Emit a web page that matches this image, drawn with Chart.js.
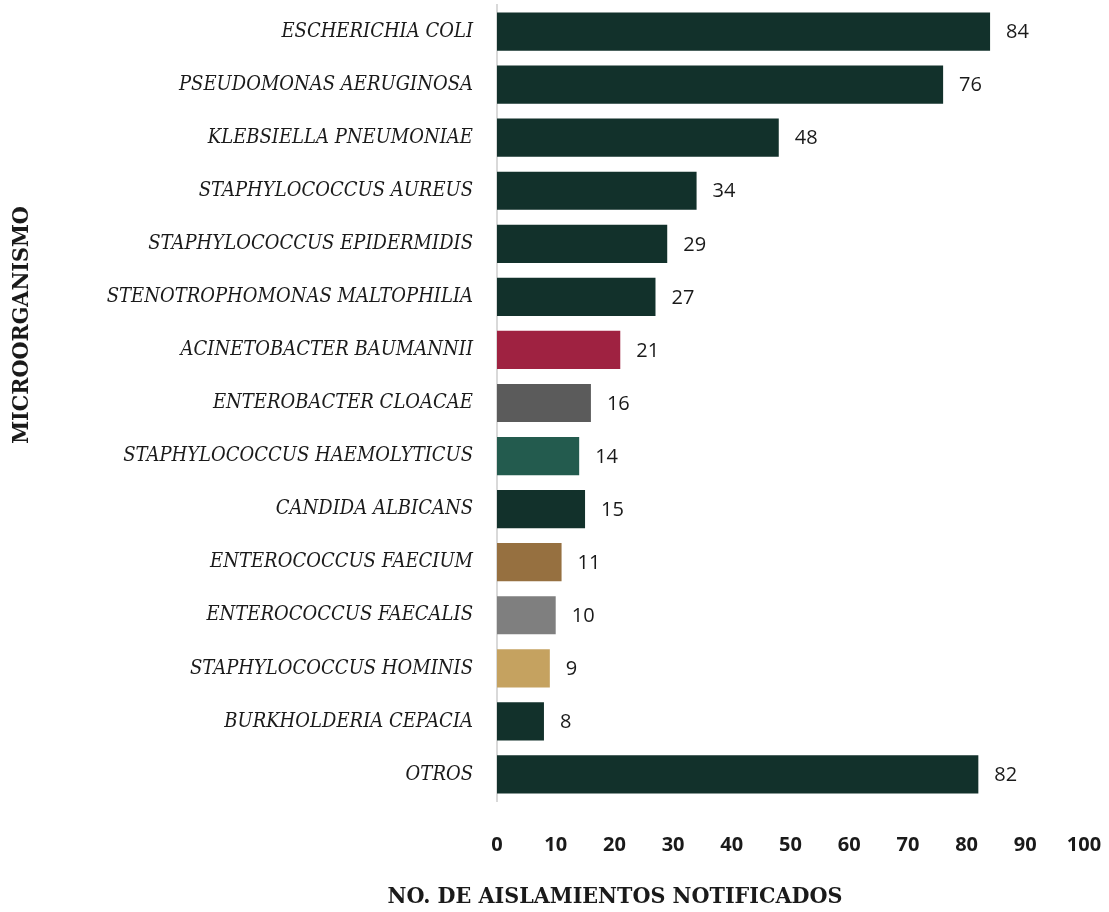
<!DOCTYPE html>
<html>
<head>
<meta charset="utf-8">
<script src="https://cdn.jsdelivr.net/npm/chart.js@4.4.1/dist/chart.umd.min.js"></script>
<style>
  html, body { margin: 0; padding: 0; background: #fff; }
  #wrap { width: 1109px; height: 912px; position: relative; }
</style>
</head>
<body>
<div id="wrap"><canvas id="chart"></canvas></div>
<script>
// Data
const organisms = [
  'ESCHERICHIA COLI', 'PSEUDOMONAS AERUGINOSA', 'KLEBSIELLA PNEUMONIAE',
  'STAPHYLOCOCCUS AUREUS', 'STAPHYLOCOCCUS EPIDERMIDIS', 'STENOTROPHOMONAS MALTOPHILIA',
  'ACINETOBACTER BAUMANNII', 'ENTEROBACTER CLOACAE', 'STAPHYLOCOCCUS HAEMOLYTICUS',
  'CANDIDA ALBICANS', 'ENTEROCOCCUS FAECIUM', 'ENTEROCOCCUS FAECALIS',
  'STAPHYLOCOCCUS HOMINIS', 'BURKHOLDERIA CEPACIA', 'OTROS'
];
const isolates = [84, 76, 48, 34, 29, 27, 21, 16, 14, 15, 11, 10, 9, 8, 82];
const barColors = [
  '#12312B', '#12312B', '#12312B', '#12312B', '#12312B', '#12312B',
  '#9F2241', '#5B5B5B', '#235B4E', '#12312B', '#967040', '#7F7F7F',
  '#C5A260', '#12312B', '#12312B'
];
const xTitle = 'NO. DE AISLAMIENTOS NOTIFICADOS';
const yTitle = 'MICROORGANISMO';

// Value labels to the right of every bar
const valueLabels = {
  id: 'valueLabels',
  afterDatasetsDraw(chart) {
    const ctx = chart.ctx;
    const meta = chart.getDatasetMeta(0);
    ctx.save();
    ctx.font = '20px "Open Sans"';
    ctx.fillStyle = '#1a1a1a';
    ctx.textAlign = 'left';
    ctx.textBaseline = 'middle';
    meta.data.forEach((bar, i) => {
      ctx.fillText(String(isolates[i]), bar.x + 16, bar.y + 1);
    });
    ctx.restore();
  }
};

// Axis titles sit off-centre in the original, so draw them by hand
const axisTitles = {
  id: 'axisTitles',
  afterDraw(chart) {
    const ctx = chart.ctx;
    ctx.save();
    ctx.fillStyle = '#1a1a1a';
    ctx.font = 'bold 23px "DejaVu Serif Condensed", "DejaVu Serif", serif';
    ctx.textAlign = 'center';
    ctx.textBaseline = 'middle';
    ctx.fillText(xTitle, 615, 897);
    ctx.translate(22, 325);
    ctx.rotate(-Math.PI / 2);
    ctx.fillText(yTitle, 0, 0);
    ctx.restore();
  }
};

new Chart(document.getElementById('chart'), {
  type: 'bar',
  data: {
    labels: organisms,
    datasets: [{
      data: isolates,
      backgroundColor: barColors,
      barPercentage: 0.72,
      categoryPercentage: 1.0
    }]
  },
  options: {
    indexAxis: 'y',
    responsive: true,
    maintainAspectRatio: false,
    animation: false,
    layout: { padding: { top: 5, right: 25, left: 0, bottom: 0 } },
    plugins: {
      legend: { display: false },
      tooltip: { enabled: false }
    },
    scales: {
      x: {
        min: 0,
        max: 100,
        grid: { display: false, drawTicks: false },
        border: { display: false },
        ticks: {
          stepSize: 10,
          padding: 32,
          color: '#1a1a1a',
          font: { family: '"Open Sans"', weight: 'bold', size: 20 }
        },
        afterFit(scale) {
          scale.height = 111;
          scale.paddingLeft = 0;
          scale.paddingRight = 0;
        }
      },
      y: {
        grid: { display: false, drawTicks: false },
        border: { display: true, color: '#d9d9d9', width: 2 },
        ticks: {
          padding: 24,
          color: '#1a1a1a',
          font: { family: '"DejaVu Serif Condensed", "DejaVu Serif", serif', style: 'italic', size: 20 }
        },
        afterFit(scale) {
          scale.width = 497;
          scale.paddingTop = 0;
          scale.paddingBottom = 0;
        }
      }
    }
  },
  plugins: [valueLabels, axisTitles]
});
</script>
</body>
</html>
